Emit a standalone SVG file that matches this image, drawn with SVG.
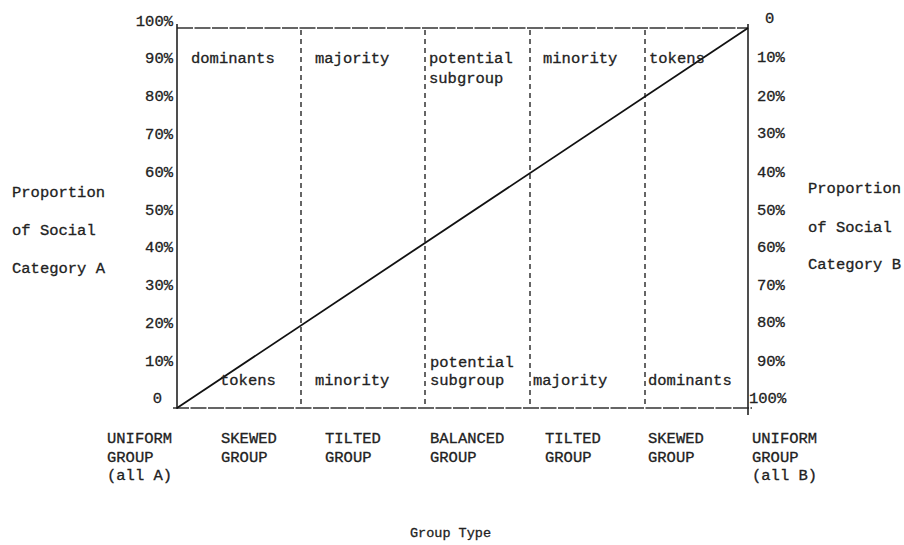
<svg xmlns="http://www.w3.org/2000/svg" width="904" height="545" viewBox="0 0 904 545">
  <style>
    text { font-family: "Liberation Mono", "DejaVu Sans Mono", monospace; font-size: 15.5px; fill: #222; stroke: #222; stroke-width: 0.3; }
    .r { text-anchor: end; }
    .axis { stroke: #222; stroke-width: 1.6; fill: none; }
    .edge { stroke: #333; stroke-width: 1.5; fill: none; stroke-dasharray: 16 1.5; }
    .divider { stroke: #333; stroke-width: 1.5; fill: none; stroke-dasharray: 5 4; }
    .diag { stroke: #111; stroke-width: 1.8; fill: none; }
  </style>
  <rect width="904" height="545" fill="#fff"/>

  <!-- frame and dividers -->
  <g id="connectors">
    <line class="edge" x1="177" y1="28" x2="748" y2="28"/>
    <line class="edge" x1="173" y1="408" x2="752" y2="408"/>
    <line class="axis" x1="177" y1="24" x2="177" y2="409"/>
    <line class="axis" x1="748" y1="24" x2="748" y2="415"/>
    <line class="divider" x1="301" y1="30" x2="301" y2="406"/>
    <line class="divider" x1="425" y1="30" x2="425" y2="406"/>
    <line class="divider" x1="530" y1="30" x2="530" y2="406"/>
    <line class="divider" x1="645" y1="30" x2="645" y2="406"/>
    <line class="diag" x1="177" y1="408" x2="748" y2="28"/>
  </g>

  <!-- left scale: Social Category A -->
  <g id="scale-a">
    <text class="r" x="173" y="26">100%</text>
    <text class="r" x="173" y="63">90%</text>
    <text class="r" x="173" y="101">80%</text>
    <text class="r" x="173" y="139">70%</text>
    <text class="r" x="173" y="177">60%</text>
    <text class="r" x="173" y="215">50%</text>
    <text class="r" x="173" y="252">40%</text>
    <text class="r" x="173" y="290">30%</text>
    <text class="r" x="173" y="328">20%</text>
    <text class="r" x="173" y="366">10%</text>
    <text class="r" x="162" y="403">0</text>
  </g>
  <g id="title-a">
    <text x="12" y="197">Proportion</text>
    <text x="12" y="235">of Social</text>
    <text x="12" y="273">Category A</text>
  </g>

  <!-- right scale: Social Category B -->
  <g id="scale-b">
    <text x="765" y="23">0</text>
    <text x="757" y="62">10%</text>
    <text x="757" y="101">20%</text>
    <text x="757" y="138">30%</text>
    <text x="757" y="177">40%</text>
    <text x="757" y="215">50%</text>
    <text x="757" y="252">60%</text>
    <text x="757" y="290">70%</text>
    <text x="757" y="327">80%</text>
    <text x="757" y="366">90%</text>
    <text x="749" y="403">100%</text>
  </g>
  <g id="title-b">
    <text x="808" y="193">Proportion</text>
    <text x="808" y="232">of Social</text>
    <text x="808" y="269">Category B</text>
  </g>

  <!-- roles of category A (upper band) -->
  <g id="roles-a">
    <text x="191" y="63">dominants</text>
    <text x="315" y="63">majority</text>
    <text x="429" y="63">potential</text>
    <text x="429" y="83">subgroup</text>
    <text x="543" y="63">minority</text>
    <text x="649" y="63">tokens</text>
  </g>

  <!-- roles of category B (lower band) -->
  <g id="roles-b">
    <text x="220" y="385">tokens</text>
    <text x="315" y="385">minority</text>
    <text x="430" y="367">potential</text>
    <text x="430" y="385">subgroup</text>
    <text x="533" y="385">majority</text>
    <text x="648" y="385">dominants</text>
  </g>

  <!-- group types along the bottom -->
  <g id="group-types">
    <text x="107" y="443">UNIFORM</text>
    <text x="107" y="462">GROUP</text>
    <text x="107" y="480">(all A)</text>
    <text x="221" y="443">SKEWED</text>
    <text x="221" y="462">GROUP</text>
    <text x="325" y="443">TILTED</text>
    <text x="325" y="462">GROUP</text>
    <text x="430" y="443">BALANCED</text>
    <text x="430" y="462">GROUP</text>
    <text x="545" y="443">TILTED</text>
    <text x="545" y="462">GROUP</text>
    <text x="648" y="443">SKEWED</text>
    <text x="648" y="462">GROUP</text>
    <text x="752" y="443">UNIFORM</text>
    <text x="752" y="462">GROUP</text>
    <text x="752" y="480">(all B)</text>
  </g>

  <g id="x-title">
    <text x="410" y="537" style="font-size:13.5px">Group Type</text>
  </g>
</svg>
